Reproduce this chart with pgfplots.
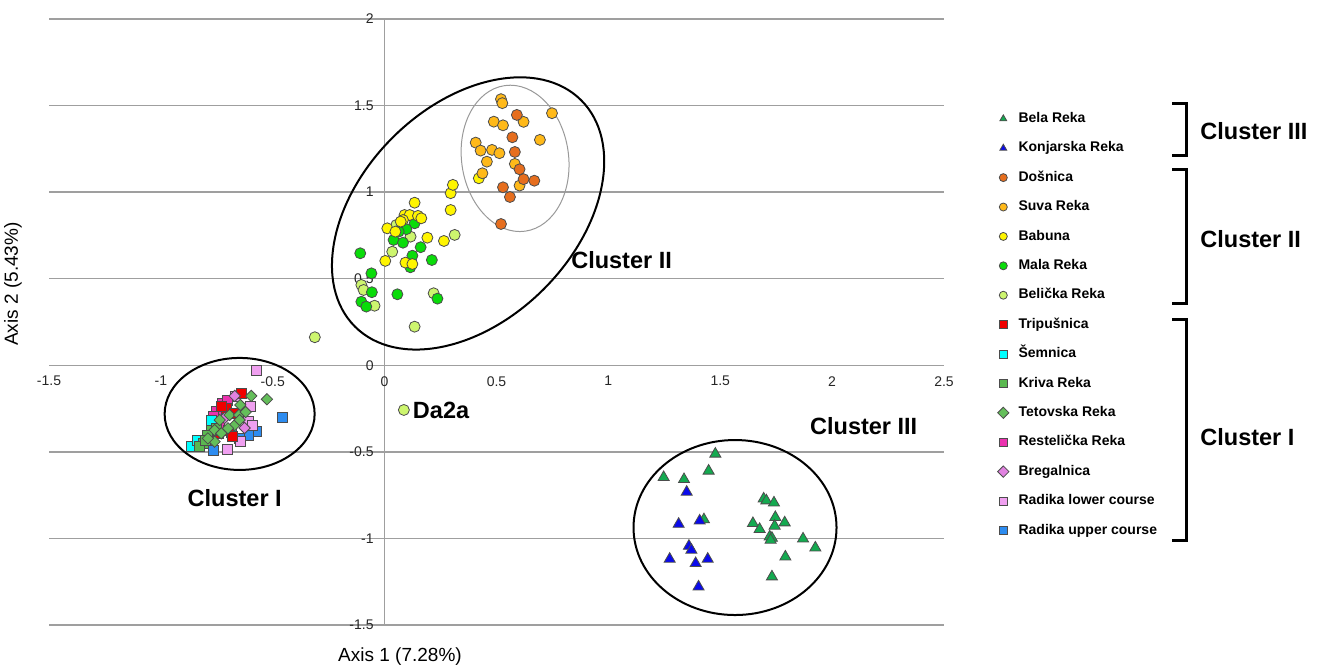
\documentclass[border=0pt]{standalone}
\usepackage{pgfplots}
\pgfplotsset{compat=1.18}
\usepackage{fontspec}
\setmainfont{Liberation Sans}
\definecolor{cBela}{RGB}{20,170,80}
\definecolor{cKonj}{RGB}{10,10,235}
\definecolor{cDos}{RGB}{230,110,30}
\definecolor{cSuva}{RGB}{255,185,25}
\definecolor{cBab}{RGB}{255,245,0}
\definecolor{cMala}{RGB}{10,220,10}
\definecolor{cBel}{RGB}{205,245,110}
\definecolor{cTrip}{RGB}{240,0,0}
\definecolor{cSem}{RGB}{0,255,255}
\definecolor{cKriva}{RGB}{90,185,80}
\definecolor{cTet}{RGB}{100,190,90}
\definecolor{cRest}{RGB}{235,50,175}
\definecolor{cBreg}{RGB}{225,130,225}
\definecolor{cRadL}{RGB}{240,160,240}
\definecolor{cRadU}{RGB}{45,140,240}
\pgfplotsset{
  circ/.style={only marks, mark=*, mark size=2.75pt, mark options={draw=black!70, line width=0.4pt, fill=#1}},
  tri/.style={only marks, mark=triangle*, mark size=3.2pt, mark options={draw=black!70, line width=0.4pt, fill=#1}},
  sq/.style={only marks, mark=square*, mark size=2.5pt, mark options={draw=black!70, line width=0.4pt, fill=#1}},
  dia/.style={only marks, mark=square*, mark size=2pt, mark options={rotate=45, draw=black!70, line width=0.4pt, fill=#1}},
}
\begin{document}
\begin{tikzpicture}
\path[use as bounding box] (0,0) rectangle (660pt,335pt);
\begin{axis}[
  at={(24.5pt,22.5pt)}, anchor=south west,
  scale only axis, width=447.5pt, height=303pt,
  xmin=-1.5, xmax=2.5, ymin=-1.5, ymax=2,
  enlargelimits=false, clip=false,
  axis lines=middle,
  axis line style={draw=gray!75, line width=0.7pt, -},
  xtick={-1.5,-1,-0.5,0,0.5,1,1.5,2,2.5},
  ytick={-1.5,-1,-0.5,0,0.5,1,1.5,2},
  ymajorgrids, grid style={gray!75, line width=0.7pt},
  major tick length=0pt,
  hide obscured x ticks=false, hide obscured y ticks=false,
  tick label style={font=\fontsize{7}{8}\selectfont, text=black!85},
  xticklabel style={yshift=-2pt},
  yticklabel style={xshift=-2pt},
  /pgf/number format/assume math mode=true,
  legend cell align=left,
  legend image code/.code={\draw[#1, mark size=2pt] plot coordinates {(0.15cm,0cm)};},
  legend style={at={(1.0595,0.847)}, anchor=north west, draw=none, fill=none, inner sep=0pt,
    font=\bfseries\fontsize{7}{8}\selectfont, row sep=8pt,
    nodes={inner xsep=2pt, inner ysep=0pt, text height=5.2pt, text depth=1.5pt},
    /tikz/every odd column/.append style={column sep=2.8pt}},
]
% ellipses
\draw[line width=1pt] (axis cs:-0.648,-0.281) ellipse [x radius=37.5pt, y radius=28pt];
\draw[line width=1pt] (axis cs:1.566,-0.937) ellipse [x radius=50.75pt, y radius=43.75pt];
\draw[line width=1pt, rotate around={45:(axis cs:0.373,0.877)}] (axis cs:0.373,0.877) ellipse [x radius=80pt, y radius=53.5pt];
\draw[gray!80, line width=0.5pt, rotate around={8:(axis cs:0.583,1.195)}] (axis cs:0.583,1.195) ellipse [x radius=26.75pt, y radius=36.75pt];
% Cluster III
\addplot[tri=cBela, forget plot] coordinates {
(1.478,-0.512) (1.448,-0.610) (1.247,-0.647) (1.338,-0.659) (1.427,-0.891)
(1.694,-0.771) (1.706,-0.782) (1.740,-0.794) (1.746,-0.878) (1.788,-0.909)
(1.646,-0.913) (1.676,-0.947) (1.743,-0.928) (1.721,-0.990) (1.731,-0.998)
(1.725,-1.009) (1.870,-1.002) (1.925,-1.054) (1.791,-1.106) (1.731,-1.221)};
\addplot[tri=cKonj, forget plot] coordinates {
(1.350,-0.732) (1.314,-0.917) (1.408,-0.898) (1.360,-1.044) (1.371,-1.067)
(1.274,-1.119) (1.390,-1.144) (1.444,-1.119) (1.403,-1.279)};
% Cluster II
\addplot[circ=cBel, forget plot] coordinates {
(0.313,0.753) (0.052,0.810) (0.116,0.743) (0.034,0.656) (-0.104,0.464)
(-0.094,0.435) (-0.045,0.344) (0.219,0.416) (0.134,0.223) (-0.312,0.162) (0.086,-0.258)};
\addplot[circ=cMala, forget plot] coordinates {
(0.134,0.820) (0.097,0.786) (0.063,0.772) (0.040,0.724) (0.082,0.708)
(0.161,0.682) (0.124,0.633) (0.211,0.608) (0.115,0.566) (-0.109,0.647)
(-0.059,0.531) (-0.057,0.422) (-0.104,0.367) (-0.082,0.339) (0.057,0.410) (0.236,0.385)};
\addplot[circ=cBab, forget plot] coordinates {
(0.295,0.994) (0.295,0.897) (0.305,1.042) (0.134,0.939) (0.089,0.868)
(0.112,0.868) (0.149,0.863) (0.164,0.849) (0.082,0.839) (0.072,0.830)
(0.012,0.791) (0.048,0.772) (0.191,0.737) (0.265,0.718) (0.003,0.603)
(0.093,0.593) (0.124,0.585) (0.421,1.080)};
\addplot[circ=cSuva, forget plot] coordinates {
(0.520,1.537) (0.526,1.514) (0.748,1.456) (0.488,1.407) (0.529,1.386)
(0.621,1.406) (0.694,1.302) (0.407,1.286) (0.429,1.240) (0.480,1.244)
(0.513,1.225) (0.457,1.176) (0.582,1.163) (0.437,1.109) (0.603,1.038)};
\addplot[circ=cDos, forget plot] coordinates {
(0.591,1.446) (0.571,1.317) (0.582,1.232) (0.603,1.132) (0.621,1.075)
(0.669,1.066) (0.529,1.028) (0.560,0.972) (0.520,0.816)};
% Cluster I
\addplot[sq=cRadU, forget plot] coordinates {
(-0.457,-0.303) (-0.571,-0.384) (-0.611,-0.403) (-0.648,-0.422) (-0.767,-0.489)
(-0.827,-0.451) (-0.684,-0.385)};
\addplot[sq=cRadL, forget plot] coordinates {
(-0.573,-0.031) (-0.666,-0.181) (-0.599,-0.235) (-0.611,-0.326) (-0.645,-0.441)
(-0.703,-0.484) (-0.590,-0.345)};
\addplot[sq=cRest, forget plot] coordinates {
(-0.723,-0.220) (-0.752,-0.268) (-0.767,-0.297) (-0.775,-0.326) (-0.737,-0.345) (-0.702,-0.200)};
\addplot[sq=cTrip, forget plot] coordinates {
(-0.640,-0.162) (-0.707,-0.248) (-0.730,-0.239) (-0.696,-0.374) (-0.741,-0.393)
(-0.670,-0.276) (-0.679,-0.408)};
\addplot[sq=cSem, forget plot] coordinates {
(-0.864,-0.470) (-0.775,-0.316) (-0.836,-0.432)};
\addplot[sq=cKriva, forget plot] coordinates {
(-0.812,-0.451) (-0.775,-0.374) (-0.752,-0.364) (-0.827,-0.470) (-0.790,-0.403) (-0.800,-0.432)};
\addplot[dia=cBreg, forget plot] coordinates {
(-0.670,-0.177) (-0.715,-0.304) (-0.626,-0.362)};
\addplot[dia=cTet, forget plot] coordinates {
(-0.596,-0.177) (-0.526,-0.196) (-0.645,-0.229) (-0.693,-0.287) (-0.651,-0.287)
(-0.737,-0.316) (-0.670,-0.345) (-0.700,-0.364) (-0.760,-0.374) (-0.730,-0.393)
(-0.760,-0.441) (-0.790,-0.422) (-0.648,-0.316) (-0.621,-0.270)};
% legend
\addlegendimage{tri=cBela}\addlegendentry{Bela Reka}
\addlegendimage{tri=cKonj}\addlegendentry{Konjarska Reka}
\addlegendimage{circ=cDos}\addlegendentry{Došnica}
\addlegendimage{circ=cSuva}\addlegendentry{Suva Reka}
\addlegendimage{circ=cBab}\addlegendentry{Babuna}
\addlegendimage{circ=cMala}\addlegendentry{Mala Reka}
\addlegendimage{circ=cBel}\addlegendentry{Belička Reka}
\addlegendimage{sq=cTrip}\addlegendentry{Tripušnica}
\addlegendimage{sq=cSem}\addlegendentry{Šemnica}
\addlegendimage{sq=cKriva}\addlegendentry{Kriva Reka}
\addlegendimage{dia=cTet}\addlegendentry{Tetovska Reka}
\addlegendimage{sq=cRest}\addlegendentry{Restelička Reka}
\addlegendimage{dia=cBreg}\addlegendentry{Bregalnica}
\addlegendimage{sq=cRadL}\addlegendentry{Radika lower course}
\addlegendimage{sq=cRadU}\addlegendentry{Radika upper course}
% labels
\node[font=\bfseries\fontsize{11.75}{14}\selectfont] at (axis cs:1.059,0.608) {Cluster II};
\node[font=\bfseries\fontsize{11.75}{14}\selectfont] at (axis cs:-0.670,-0.767) {Cluster I};
\node[font=\bfseries\fontsize{11.75}{14}\selectfont] at (axis cs:2.141,-0.351) {Cluster III};
\node[font=\bfseries\fontsize{11.75}{14}\selectfont, anchor=west, inner sep=0pt] at (axis cs:0.125,-0.258) {Da2a};
\end{axis}
% axis titles
\node[font=\fontsize{9.5}{11}\selectfont] at (200pt,6.5pt) {Axis 1 (7.28\%)};
\node[font=\fontsize{9.5}{11}\selectfont, rotate=90] at (6.5pt,193pt) {Axis 2 (5.43\%)};
% brackets
\draw[line width=1.5pt] (586pt,283pt) -- (593pt,283pt) -- (593pt,257pt) -- (586pt,257pt);
\draw[line width=1.5pt] (586pt,250pt) -- (593pt,250pt) -- (593pt,183.5pt) -- (586pt,183.5pt);
\draw[line width=1.5pt] (586pt,175.5pt) -- (593pt,175.5pt) -- (593pt,65pt) -- (586pt,65pt);
\node[font=\bfseries\fontsize{11.75}{14}\selectfont, anchor=west, inner sep=0pt] at (600pt,269.5pt) {Cluster III};
\node[font=\bfseries\fontsize{11.75}{14}\selectfont, anchor=west, inner sep=0pt] at (600pt,215.5pt) {Cluster II};
\node[font=\bfseries\fontsize{11.75}{14}\selectfont, anchor=west, inner sep=0pt] at (600pt,116.5pt) {Cluster I};
\end{tikzpicture}
\end{document}
